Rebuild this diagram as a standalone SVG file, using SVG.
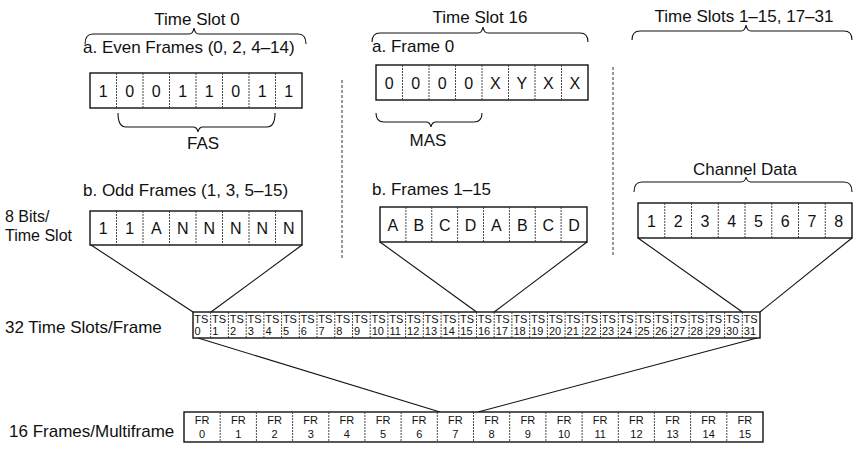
<svg xmlns="http://www.w3.org/2000/svg" width="855" height="452" viewBox="0 0 855 452">
<style>
text{font-family:"Liberation Sans",Arial,sans-serif;fill:#111}
.lbl{font-size:17px}
.side{font-size:16px}
.cell{font-size:16px;text-anchor:middle}
.mid{text-anchor:middle}
.ts{font-size:11px}
.fr{font-size:11px;text-anchor:middle}
.box{fill:#fff;stroke:#111;stroke-width:1.4}
.div{stroke:#333;stroke-width:0.9;stroke-dasharray:2 1}
.brace{fill:none;stroke:#111;stroke-width:1.1}
.conn{stroke:#111;stroke-width:1.1;fill:none}
.sep{stroke:#333;stroke-width:1;stroke-dasharray:3 2}
</style>
<rect width="855" height="452" fill="#fff"/>

<g id="headers">
<text class="lbl mid" x="197" y="25">Time Slot 0</text>
<text class="lbl mid" x="480" y="23">Time Slot 16</text>
<text class="lbl mid" x="744" y="22">Time Slots 1–15, 17–31</text>
<path class="brace" d="M85,44 Q85,34 93,34 L189,34 Q193,34 194,28 Q195,34 199,34 L298,34 Q306,34 306,44"/>
<path class="brace" d="M372,42 Q372,33 380,33 L478,33 Q482,33 483,27 Q484,33 488,33 L580,33 Q588,33 588,42"/>
<path class="brace" d="M632,40 Q632,31 640,31 L741,31 Q745,31 746,25 Q747,31 751,31 L844,31 Q852,31 852,40"/>
</g>

<g id="separators">
<line class="sep" x1="342" y1="80" x2="342" y2="258"/>
<line class="sep" x1="613" y1="67" x2="613" y2="257"/>
</g>

<g id="even-frames">
<text class="lbl" x="83" y="53">a. Even Frames (0, 2, 4–14)</text>
<rect class="box" x="90" y="73" width="212" height="35"/>
<path class="div" d="M116.5,73V108M143,73V108M169.5,73V108M196,73V108M222.5,73V108M249,73V108M275.5,73V108"/>
<text class="cell" x="103.25" y="96.5">1</text><text class="cell" x="129.75" y="96.5">0</text><text class="cell" x="156.25" y="96.5">0</text><text class="cell" x="182.75" y="96.5">1</text><text class="cell" x="209.25" y="96.5">1</text><text class="cell" x="235.75" y="96.5">0</text><text class="cell" x="262.25" y="96.5">1</text><text class="cell" x="288.75" y="96.5">1</text>
<path class="brace" d="M118,113 Q118,127 126,127 L193,127 Q197,127 198,132 Q199,127 203,127 L267,127 Q275,127 275,113"/>
<text class="lbl mid" x="203" y="149">FAS</text>
</g>

<g id="frame-0">
<text class="lbl" x="372" y="52">a. Frame 0</text>
<rect class="box" x="376" y="65" width="212" height="35"/>
<path class="div" d="M402.5,65V100M429,65V100M455.5,65V100M482,65V100M508.5,65V100M535,65V100M561.5,65V100"/>
<text class="cell" x="389.25" y="88.5">0</text><text class="cell" x="415.75" y="88.5">0</text><text class="cell" x="442.25" y="88.5">0</text><text class="cell" x="468.75" y="88.5">0</text><text class="cell" x="495.25" y="88.5">X</text><text class="cell" x="521.75" y="88.5">Y</text><text class="cell" x="548.25" y="88.5">X</text><text class="cell" x="574.75" y="88.5">X</text>
<path class="brace" d="M376,113 Q376,122 384,122 L426,122 Q430,122 431,127 Q432,122 436,122 L474,122 Q482,122 482,113"/>
<text class="lbl mid" x="428" y="146">MAS</text>
</g>

<g id="odd-frames">
<text class="lbl" x="83" y="196">b. Odd Frames (1, 3, 5–15)</text>
<text class="side" x="5" y="222">8 Bits/</text>
<text class="side" x="5" y="241">Time Slot</text>
<rect class="box" x="90" y="211" width="212" height="34"/>
<path class="div" d="M116.5,211V245M143,211V245M169.5,211V245M196,211V245M222.5,211V245M249,211V245M275.5,211V245"/>
<text class="cell" x="103.25" y="234">1</text><text class="cell" x="129.75" y="234">1</text><text class="cell" x="156.25" y="234">A</text><text class="cell" x="182.75" y="234">N</text><text class="cell" x="209.25" y="234">N</text><text class="cell" x="235.75" y="234">N</text><text class="cell" x="262.25" y="234">N</text><text class="cell" x="288.75" y="234">N</text>
</g>

<g id="frames-1-15">
<text class="lbl" x="372" y="195">b. Frames 1–15</text>
<rect class="box" x="380" y="207" width="207" height="35"/>
<path class="div" d="M405.9,207V242M431.75,207V242M457.6,207V242M483.5,207V242M509.4,207V242M535.25,207V242M561.1,207V242"/>
<text class="cell" x="392.9" y="230.5">A</text><text class="cell" x="418.8" y="230.5">B</text><text class="cell" x="444.7" y="230.5">C</text><text class="cell" x="470.6" y="230.5">D</text><text class="cell" x="496.4" y="230.5">A</text><text class="cell" x="522.3" y="230.5">B</text><text class="cell" x="548.2" y="230.5">C</text><text class="cell" x="574.1" y="230.5">D</text>
</g>

<g id="channel-data">
<text class="lbl mid" x="745" y="175">Channel Data</text>
<path class="brace" d="M634,192 Q634,182 642,182 L741,182 Q745,182 746,177 Q747,182 751,182 L844,182 Q852,182 852,192"/>
<rect class="box" x="638" y="203" width="214" height="35"/>
<path class="div" d="M664.75,203V238M691.5,203V238M718.25,203V238M745,203V238M771.75,203V238M798.5,203V238M825.25,203V238"/>
<text class="cell" x="651.4" y="226.5">1</text><text class="cell" x="678.1" y="226.5">2</text><text class="cell" x="704.9" y="226.5">3</text><text class="cell" x="731.6" y="226.5">4</text><text class="cell" x="758.4" y="226.5">5</text><text class="cell" x="785.1" y="226.5">6</text><text class="cell" x="811.9" y="226.5">7</text><text class="cell" x="838.6" y="226.5">8</text>
</g>

<g id="connectors">
<line class="conn" x1="91" y1="245" x2="193" y2="312"/>
<line class="conn" x1="302" y1="245" x2="211" y2="312"/>
<line class="conn" x1="380" y1="242" x2="476.5" y2="312"/>
<line class="conn" x1="587" y1="242" x2="494.2" y2="312"/>
<line class="conn" x1="638" y1="238" x2="742.3" y2="312"/>
<line class="conn" x1="852" y1="238" x2="760" y2="312"/>
<line class="conn" x1="198" y1="338" x2="440" y2="412"/>
<line class="conn" x1="757" y1="338" x2="478" y2="412"/>
</g>

<g id="time-slots">
<text class="lbl" x="5" y="333">32 Time Slots/Frame</text>
<rect class="box" x="193" y="312" width="567" height="26"/>
<path class="div" d="M210.7,312V338M228.4,312V338M246.2,312V338M263.9,312V338M281.6,312V338M299.3,312V338M317,312V338M334.8,312V338M352.5,312V338M370.2,312V338M387.9,312V338M405.6,312V338M423.3,312V338M441.1,312V338M458.8,312V338M476.5,312V338M494.2,312V338M511.9,312V338M529.7,312V338M547.4,312V338M565.1,312V338M582.8,312V338M600.5,312V338M618.3,312V338M636,312V338M653.7,312V338M671.4,312V338M689.1,312V338M706.8,312V338M724.6,312V338M742.3,312V338"/>
<g class="ts">
<text x="194.3" y="323">TS</text><text x="194.5" y="335">0</text>
<text x="212" y="323">TS</text><text x="212.2" y="335">1</text>
<text x="229.7" y="323">TS</text><text x="229.9" y="335">2</text>
<text x="247.5" y="323">TS</text><text x="247.7" y="335">3</text>
<text x="265.2" y="323">TS</text><text x="265.4" y="335">4</text>
<text x="282.9" y="323">TS</text><text x="283.1" y="335">5</text>
<text x="300.6" y="323">TS</text><text x="300.8" y="335">6</text>
<text x="318.3" y="323">TS</text><text x="318.5" y="335">7</text>
<text x="336.1" y="323">TS</text><text x="336.3" y="335">8</text>
<text x="353.8" y="323">TS</text><text x="354" y="335">9</text>
<text x="371.5" y="323">TS</text><text x="371.7" y="335">10</text>
<text x="389.2" y="323">TS</text><text x="389.4" y="335">11</text>
<text x="406.9" y="323">TS</text><text x="407.1" y="335">12</text>
<text x="424.6" y="323">TS</text><text x="424.8" y="335">13</text>
<text x="442.4" y="323">TS</text><text x="442.6" y="335">14</text>
<text x="460.1" y="323">TS</text><text x="460.3" y="335">15</text>
<text x="477.8" y="323">TS</text><text x="478" y="335">16</text>
<text x="495.5" y="323">TS</text><text x="495.7" y="335">17</text>
<text x="513.2" y="323">TS</text><text x="513.4" y="335">18</text>
<text x="531" y="323">TS</text><text x="531.2" y="335">19</text>
<text x="548.7" y="323">TS</text><text x="548.9" y="335">20</text>
<text x="566.4" y="323">TS</text><text x="566.6" y="335">21</text>
<text x="584.1" y="323">TS</text><text x="584.3" y="335">22</text>
<text x="601.8" y="323">TS</text><text x="602" y="335">23</text>
<text x="619.6" y="323">TS</text><text x="619.8" y="335">24</text>
<text x="637.3" y="323">TS</text><text x="637.5" y="335">25</text>
<text x="655" y="323">TS</text><text x="655.2" y="335">26</text>
<text x="672.7" y="323">TS</text><text x="672.9" y="335">27</text>
<text x="690.4" y="323">TS</text><text x="690.6" y="335">28</text>
<text x="708.1" y="323">TS</text><text x="708.3" y="335">29</text>
<text x="725.9" y="323">TS</text><text x="726.1" y="335">30</text>
<text x="743.6" y="323">TS</text><text x="743.8" y="335">31</text>
</g>
</g>

<g id="frames">
<text class="lbl" x="9" y="437">16 Frames/Multiframe</text>
<rect class="box" x="184" y="412" width="579" height="30"/>
<path class="div" d="M220.2,412V442M256.4,412V442M292.6,412V442M328.8,412V442M364.9,412V442M401.1,412V442M437.3,412V442M473.5,412V442M509.7,412V442M545.9,412V442M582.1,412V442M618.3,412V442M654.4,412V442M690.6,412V442M726.8,412V442"/>
<g class="fr">
<text x="202.1" y="424">FR</text><text x="202.1" y="438">0</text>
<text x="238.3" y="424">FR</text><text x="238.3" y="438">1</text>
<text x="274.5" y="424">FR</text><text x="274.5" y="438">2</text>
<text x="310.7" y="424">FR</text><text x="310.7" y="438">3</text>
<text x="346.9" y="424">FR</text><text x="346.9" y="438">4</text>
<text x="383" y="424">FR</text><text x="383" y="438">5</text>
<text x="419.2" y="424">FR</text><text x="419.2" y="438">6</text>
<text x="455.4" y="424">FR</text><text x="455.4" y="438">7</text>
<text x="491.6" y="424">FR</text><text x="491.6" y="438">8</text>
<text x="527.8" y="424">FR</text><text x="527.8" y="438">9</text>
<text x="564" y="424">FR</text><text x="564" y="438">10</text>
<text x="600.2" y="424">FR</text><text x="600.2" y="438">11</text>
<text x="636.4" y="424">FR</text><text x="636.4" y="438">12</text>
<text x="672.5" y="424">FR</text><text x="672.5" y="438">13</text>
<text x="708.7" y="424">FR</text><text x="708.7" y="438">14</text>
<text x="744.9" y="424">FR</text><text x="744.9" y="438">15</text>
</g>
</g>
</svg>
